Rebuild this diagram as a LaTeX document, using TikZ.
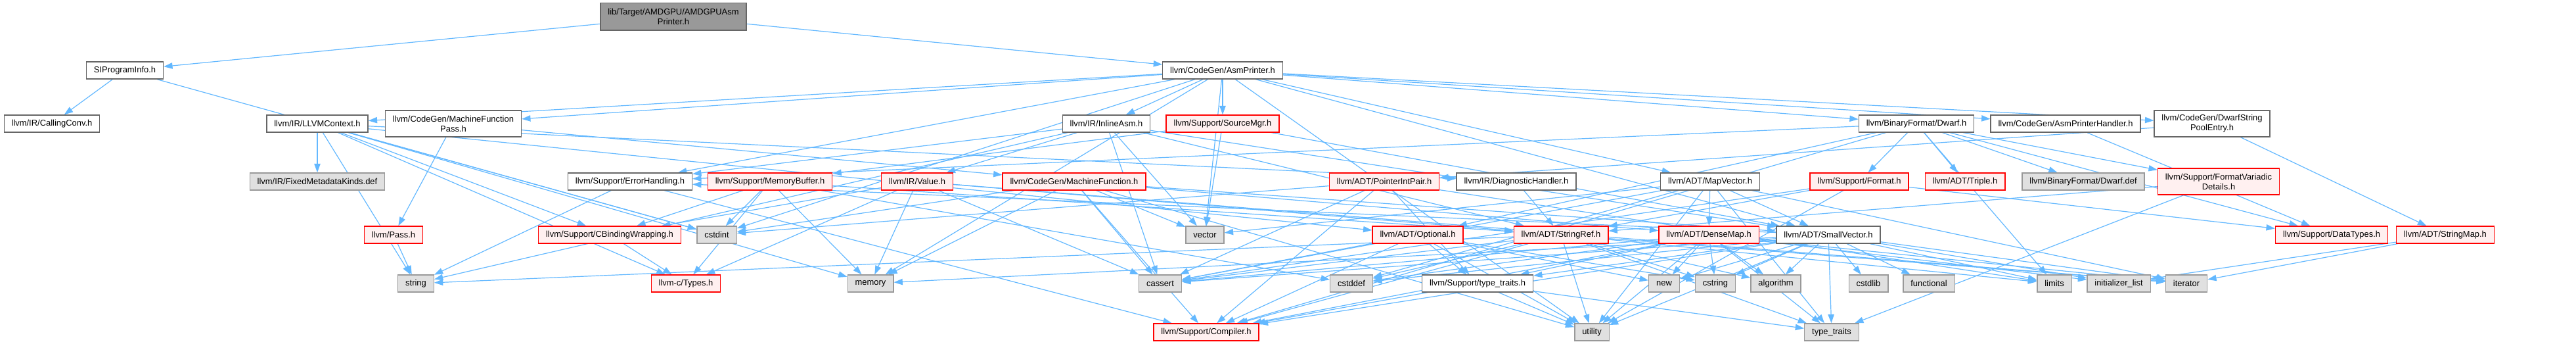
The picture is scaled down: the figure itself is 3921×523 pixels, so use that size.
\documentclass[tikz,border=0pt]{standalone}
\usepackage{fontspec}
\setmainfont{Liberation Sans}
\usetikzlibrary{arrows.meta}
\pgfdeclarelayer{edges}
\pgfsetlayers{edges,main}
\definecolor{edgeblue}{HTML}{63B8FF}
\definecolor{nodegray}{HTML}{666666}
\definecolor{redfill}{HTML}{FFF0F0}
\definecolor{sysfill}{HTML}{E0E0E0}
\definecolor{sysline}{HTML}{999999}
\definecolor{rootfill}{HTML}{999999}

\begin{document}
\begin{tikzpicture}[
  x=0.75pt, y=-0.75pt,
  box/.style={draw=nodegray, fill=white, line width=1pt, inner xsep=8.6pt,
              inner ysep=0pt, minimum height=19.5pt, align=center,
              font=\fontsize{9.7}{11.3}\selectfont},
  redbox/.style={box, draw=red, fill=redfill},
  sysbox/.style={box, draw=sysline, fill=sysfill},
  rootbox/.style={box, fill=rootfill, minimum height=31pt},
  twoline/.style={minimum height=30pt},
  arr/.style={-{Triangle[length=10pt,width=7pt]}, draw=edgeblue, line width=0.9pt}
]
  \useasboundingbox (0,0) rectangle (3921,523);

  % rank 0 and 1
  \node[rootbox] (root) at (1025,25.5) {lib/Target/AMDGPU/AMDGPUAsm\\Printer.h};
  \node[box] (sipi) at (190,107) {SIProgramInfo.h};
  \node[box] (asmp) at (1861,107) {llvm/CodeGen/AsmPrinter.h};

  % rank 2
  \node[box]    (callconv) at (79,188)   {llvm/IR/CallingConv.h};
  \node[box]    (llvmctx)  at (483,188)  {llvm/IR/LLVMContext.h};
  \node[box, twoline] (mfpass) at (690,188) {llvm/CodeGen/MachineFunction\\Pass.h};
  \node[box]    (inlasm)   at (1684,188) {llvm/IR/InlineAsm.h};
  \node[redbox] (srcmgr)   at (1861,188) {llvm/Support/SourceMgr.h};
  \node[box]    (dwarfh)   at (2917,188) {llvm/BinaryFormat/Dwarf.h};
  \node[box]    (asmph)    at (3144,188) {llvm/CodeGen/AsmPrinterHandler.h};
  \node[box, twoline] (dspe) at (3367,188) {llvm/CodeGen/DwarfString\\PoolEntry.h};

  % rank 3
  \node[sysbox] (fmk)      at (483,276)  {llvm/IR/FixedMetadataKinds.def};
  \node[box]    (errh)     at (959,276)  {llvm/Support/ErrorHandling.h};
  \node[redbox] (membuf)   at (1172,276) {llvm/Support/MemoryBuffer.h};
  \node[redbox] (value)    at (1396,276) {llvm/IR/Value.h};
  \node[redbox] (mfunc)    at (1635,276) {llvm/CodeGen/MachineFunction.h};
  \node[redbox] (pip)      at (2107,276) {llvm/ADT/PointerIntPair.h};
  \node[box]    (diagh)    at (2308,276) {llvm/IR/DiagnosticHandler.h};
  \node[box]    (mapvec)   at (2603,276) {llvm/ADT/MapVector.h};
  \node[redbox] (format)   at (2830,276) {llvm/Support/Format.h};
  \node[redbox] (triple)   at (2991,276) {llvm/ADT/Triple.h};
  \node[sysbox] (dwarfdef) at (3171,276) {llvm/BinaryFormat/Dwarf.def};
  \node[redbox, twoline] (fvd) at (3377,276) {llvm/Support/FormatVariadic\\Details.h};

  % rank 4
  \node[redbox] (pass)      at (599,357)  {llvm/Pass.h};
  \node[redbox] (cbw)       at (928,357)  {llvm/Support/CBindingWrapping.h};
  \node[sysbox] (cstdint)   at (1091,357) {cstdint};
  \node[sysbox] (vector)    at (1834,357) {vector};
  \node[redbox] (optional)  at (2158,357) {llvm/ADT/Optional.h};
  \node[redbox] (strref)    at (2376,357) {llvm/ADT/StringRef.h};
  \node[redbox] (densemap)  at (2601,357) {llvm/ADT/DenseMap.h};
  \node[box]    (smallvec)  at (2783,357) {llvm/ADT/SmallVector.h};
  \node[redbox] (datatypes) at (3549,357) {llvm/Support/DataTypes.h};
  \node[redbox] (strmap)    at (3722,357) {llvm/ADT/StringMap.h};

  % rank 5
  \node[sysbox] (string)     at (633,431)  {string};
  \node[redbox] (ctypes)     at (1044,431) {llvm-c/Types.h};
  \node[sysbox] (memory)     at (1325,431) {memory};
  \node[sysbox] (cassert)    at (1766,431) {cassert};
  \node[sysbox] (cstddef)    at (2057,431) {cstddef};
  \node[box]    (typetr)     at (2249,431) {llvm/Support/type\_traits.h};
  \node[sysbox] (new)        at (2533,431) {new};
  \node[sysbox] (cstring)    at (2611,431) {cstring};
  \node[sysbox] (algorithm)  at (2703,431) {algorithm};
  \node[sysbox] (cstdlib)    at (2844,431) {cstdlib};
  \node[sysbox] (functional) at (2936,431) {functional};
  \node[sysbox] (limits)     at (3127,431) {limits};
  \node[sysbox] (initlist)   at (3225,431) {initializer\_list};
  \node[sysbox] (iterator)   at (3328,431) {iterator};

  % rank 6
  \node[redbox] (compiler) at (1836,505) {llvm/Support/Compiler.h};
  \node[sysbox] (utility)  at (2423,505) {utility};
  \node[sysbox] (stdtt)    at (2788,505) {type\_traits};

  % includes
  \begin{pgfonlayer}{edges}
    \foreach \t in {sipi, asmp} \draw[arr] (root) -- (\t);
    \foreach \t in {callconv, cstdint} \draw[arr] (sipi) -- (\t);
    \foreach \t in {mapvec, smallvec, dwarfh, asmph, dspe, mfpass, inlasm,
                    llvmctx, errh, srcmgr, cstdint, memory, utility, vector}
      \draw[arr] (asmp) -- (\t);
    \foreach \t in {ctypes, optional, diagh, fmk, cbw, cstdint, memory, string}
      \draw[arr] (llvmctx) -- (\t);
    \foreach \t in {mfunc, pass} \draw[arr] (mfpass) -- (\t);
    \foreach \t in {smallvec, strref, value, errh, cassert, string, vector}
      \draw[arr] (inlasm) -- (\t);
    \foreach \t in {smallvec, membuf, vector} \draw[arr] (srcmgr) -- (\t);
    \foreach \t in {format, triple, dwarfdef, fvd, datatypes, limits, optional,
                    compiler, errh}
      \draw[arr] (dwarfh) -- (\t);
    \draw[arr] (asmph) -- (datatypes);
    \foreach \t in {pip, strmap} \draw[arr] (dspe) -- (\t);
    \foreach \t in {compiler, string} \draw[arr] (errh) -- (\t);
    \foreach \t in {ctypes, strref, cbw, cstddef, cstdint, memory}
      \draw[arr] (membuf) -- (\t);
    \foreach \t in {ctypes, strref, cbw, cassert, iterator, memory}
      \draw[arr] (value) -- (\t);
    \foreach \t in {densemap, smallvec, compiler, cassert, cstdint, memory,
                    utility, vector}
      \draw[arr] (mfunc) -- (\t);
    \foreach \t in {compiler, typetr, cassert, cstdint, limits}
      \draw[arr] (pip) -- (\t);
    \draw[arr] (diagh) -- (strref);
    \foreach \t in {densemap, smallvec, cassert, cstddef, iterator, stdtt,
                    utility, vector}
      \draw[arr] (mapvec) -- (\t);
    \foreach \t in {strref, datatypes, cassert, utility} \draw[arr] (format) -- (\t);
    \foreach \t in {strref, stdtt} \draw[arr] (fvd) -- (\t);
    \draw[arr] (pass) -- (string);
    \draw[arr] (cbw) -- (ctypes);
    \foreach \t in {compiler, typetr, cassert, cstring, new, utility}
      \draw[arr] (optional) -- (\t);
    \foreach \t in {compiler, algorithm, cassert, cstddef, cstring, iterator,
                    limits, string, stdtt, utility}
      \draw[arr] (strref) -- (\t);
    \foreach \t in {compiler, typetr, algorithm, cassert, cstddef, cstring,
                    initlist, iterator, new, stdtt, utility}
      \draw[arr] (densemap) -- (\t);
    \foreach \t in {compiler, errh, typetr, algorithm, cassert, cstddef, cstdlib,
                    cstring, functional, initlist, iterator, limits, memory,
                    new, stdtt, utility}
      \draw[arr] (smallvec) -- (\t);
    \foreach \t in {initlist, iterator} \draw[arr] (strmap) -- (\t);
    \foreach \t in {compiler, stdtt, utility} \draw[arr] (typetr) -- (\t);
  \end{pgfonlayer}
\end{tikzpicture}
\end{document}
